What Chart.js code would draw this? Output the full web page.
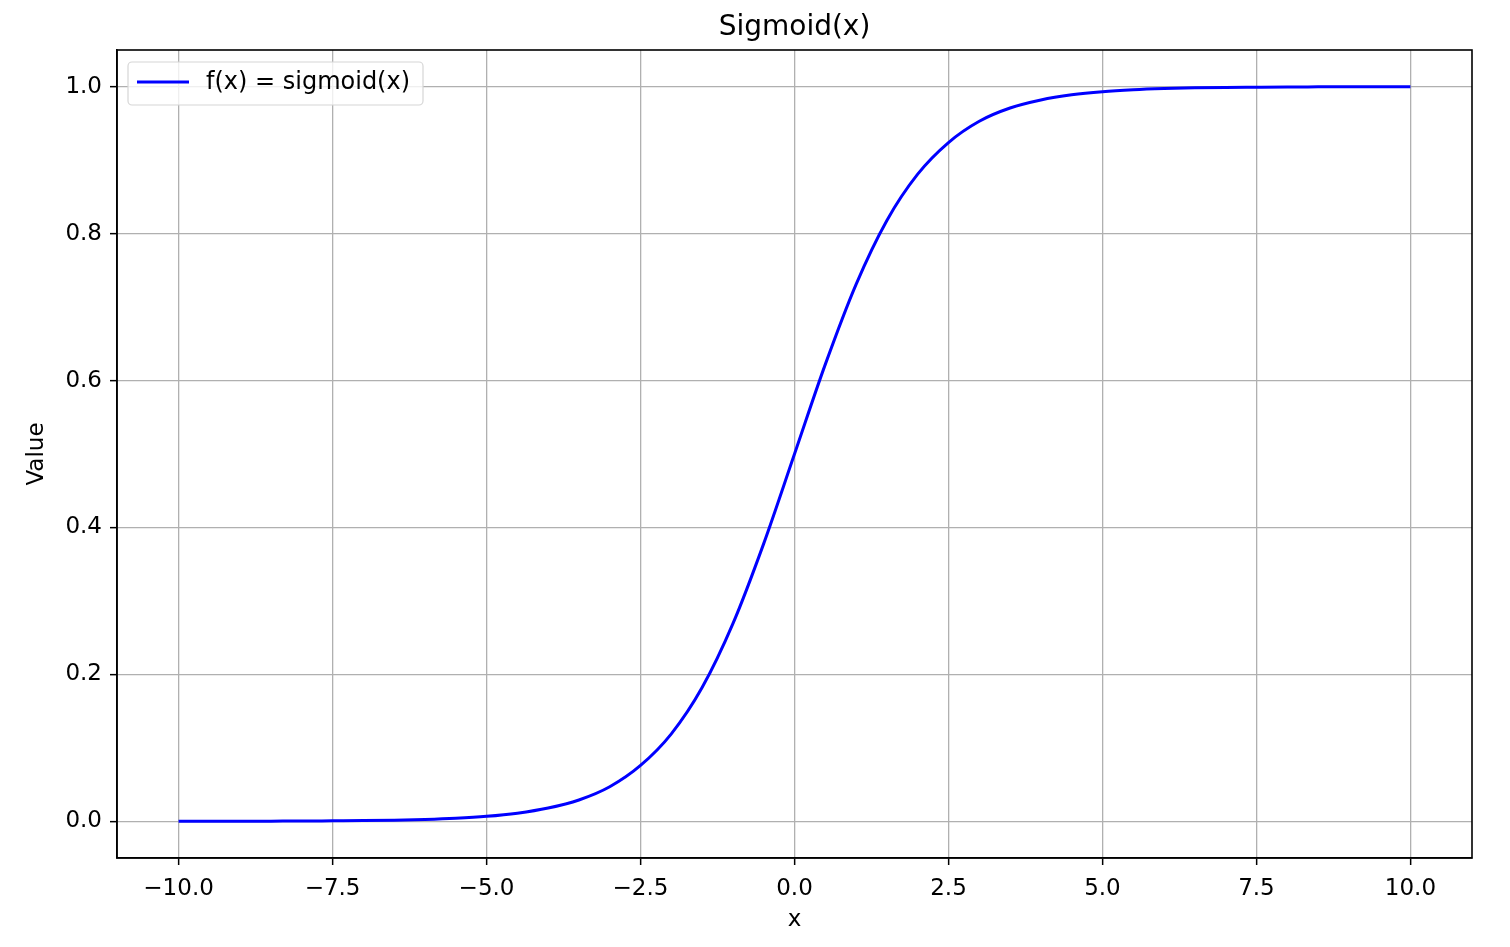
<!DOCTYPE html>
<html>
<head>
<meta charset="utf-8">
<script src="https://cdn.jsdelivr.net/npm/chart.js@4/dist/chart.umd.min.js"></script>
<style>
  body { margin: 0; background: #fff; }
  #wrap { width: 1510px; height: 947px; }
</style>
</head>
<body>
<div id="wrap"><canvas id="sigmoidChart" width="1510" height="947"></canvas></div>
<script>
// values
const xValues = [-10, -9.5, -9, -8.5, -8, -7.5, -7, -6.5, -6, -5.5, -5, -4.5, -4, -3.5, -3, -2.5, -2, -1.5, -1, -0.5,
                 0, 0.5, 1, 1.5, 2, 2.5, 3, 3.5, 4, 4.5, 5, 5.5, 6, 6.5, 7, 7.5, 8, 8.5, 9, 9.5, 10];
const yValues = [0.0000, 0.0001, 0.0001, 0.0002, 0.0003, 0.0006, 0.0009, 0.0015, 0.0025, 0.0041, 0.0067, 0.011, 0.018, 0.029, 0.047, 0.076, 0.119, 0.182, 0.269, 0.378,
                 0.500, 0.622, 0.731, 0.818, 0.881, 0.924, 0.953, 0.971, 0.982, 0.989, 0.9933, 0.9959, 0.9975, 0.9985, 0.9991, 0.9994, 0.9997, 0.9998, 0.9999, 0.9999, 1.0000];
const xTicks = [-10, -7.5, -5, -2.5, 0, 2.5, 5, 7.5, 10];
const yTicks = [0, 0.2, 0.4, 0.6, 0.8, 1.0];

const FONT = "'DejaVu Sans', sans-serif";

function fmt(v) {
    const s = Math.abs(v).toFixed(1);
    return v < 0 ? '\u2212' + s : s;
}

// top and right spines
const frame = {
    id: 'frame',
    afterDatasetsDraw(chart) {
        const a = chart.chartArea, ctx = chart.ctx;
        ctx.save();
        ctx.strokeStyle = '#000';
        ctx.lineWidth = 1.6;
        ctx.strokeRect(a.left, a.top, a.right - a.left, a.bottom - a.top);
        ctx.restore();
    }
};

// matplotlib style legend box in the upper left
const boxLegend = {
    id: 'boxLegend',
    afterDraw(chart) {
        const a = chart.chartArea, ctx = chart.ctx;
        const ds = chart.data.datasets[0];
        const x = a.left + 11, y = a.top + 12, w = 295, h = 43;
        ctx.save();
        ctx.beginPath();
        ctx.roundRect(x, y, w, h, 4);
        ctx.fillStyle = 'rgba(255,255,255,0.8)';
        ctx.fill();
        ctx.strokeStyle = '#d6d6d6';
        ctx.lineWidth = 1.2;
        ctx.stroke();
        ctx.beginPath();
        ctx.moveTo(x + 9, y + 20);
        ctx.lineTo(x + 61, y + 20);
        ctx.strokeStyle = ds.borderColor;
        ctx.lineWidth = ds.borderWidth;
        ctx.stroke();
        ctx.fillStyle = '#000';
        ctx.font = '24px ' + FONT;
        ctx.textBaseline = 'middle';
        ctx.fillText(ds.label, x + 78, y + 21);
        ctx.restore();
    }
};

new Chart(document.getElementById('sigmoidChart').getContext('2d'), {
    type: 'line',
    data: {
        datasets: [{
            label: 'f(x) = sigmoid(x)',
            data: xValues.map((x, i) => ({ x: x, y: yValues[i] })),
            borderColor: '#0000ff',
            borderWidth: 3,
            pointRadius: 0,
            cubicInterpolationMode: 'monotone',
            fill: false
        }]
    },
    options: {
        responsive: false,
        animation: false,
        layout: { padding: { right: 38 } },
        plugins: {
            legend: { display: false },
            tooltip: { enabled: false },
            title: {
                display: true,
                fullSize: false,
                text: 'Sigmoid(x)',
                color: '#000',
                font: { family: FONT, size: 28, weight: 'normal', lineHeight: 1.2 },
                padding: { top: 11, bottom: 5.4 }
            }
        },
        scales: {
            x: {
                type: 'linear',
                min: -11,
                max: 11,
                afterBuildTicks: s => { s.ticks = xTicks.map(v => ({ value: v })); },
                afterFit: s => { s.height = 89; },
                ticks: { color: '#000', font: { family: FONT, size: 23 }, padding: 10, maxRotation: 0, callback: v => fmt(v) },
                grid: { color: '#b0b0b0', lineWidth: 1.3, tickColor: '#000', tickLength: 7, tickWidth: 1.5 },
                border: { color: '#000', width: 1.6 },
                title: { display: true, text: 'x', color: '#000', font: { family: FONT, size: 23 }, padding: { top: 0, bottom: 13 } }
            },
            y: {
                type: 'linear',
                min: -0.05,
                max: 1.05,
                afterBuildTicks: s => { s.ticks = yTicks.map(v => ({ value: v })); },
                afterFit: s => { s.width = 117; },
                ticks: { color: '#000', font: { family: FONT, size: 23 }, padding: 8, callback: v => fmt(v) },
                grid: { color: '#b0b0b0', lineWidth: 1.3, tickColor: '#000', tickLength: 7, tickWidth: 1.5 },
                border: { color: '#000', width: 1.6 },
                title: { display: true, text: 'Value', color: '#000', font: { family: FONT, size: 23 }, padding: { top: 23, bottom: 0 } }
            }
        }
    },
    plugins: [frame, boxLegend]
});
</script>
</body>
</html>
